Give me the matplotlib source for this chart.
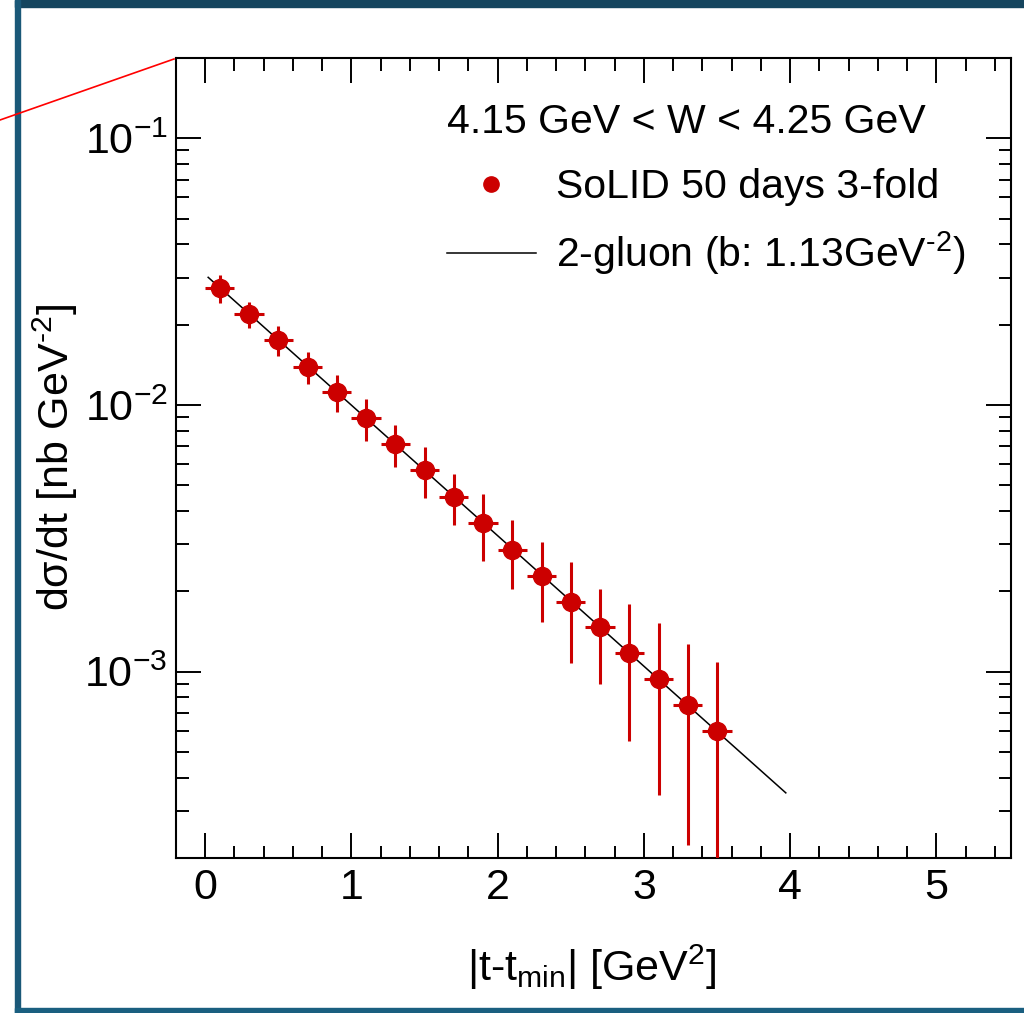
import numpy as np
import matplotlib
matplotlib.use("Agg")
import matplotlib.pyplot as plt
from matplotlib.lines import Line2D
from matplotlib.patches import Rectangle
from matplotlib.ticker import MultipleLocator, LogLocator, NullFormatter

plt.rcParams['font.family'] = ['Liberation Sans', 'DejaVu Sans']
plt.rcParams['mathtext.fontset'] = 'custom'
plt.rcParams['mathtext.rm'] = 'Liberation Sans'
plt.rcParams['mathtext.it'] = 'Liberation Sans:italic'
plt.rcParams['mathtext.bf'] = 'Liberation Sans:bold'

# data
t_vals = [0.1, 0.3, 0.5, 0.7, 0.9, 1.1, 1.3, 1.5, 1.7, 1.9,
          2.1, 2.3, 2.5, 2.7, 2.9, 3.1, 3.3, 3.5]
t_err = [0.1] * 18
xsec = [0.0274, 0.0219, 0.0175, 0.01387, 0.01116, 0.00893, 0.00715, 0.00571, 0.00453,
        0.00362, 0.00287, 0.00229, 0.00183, 0.00147, 0.00117, 0.000935, 0.000748, 0.000597]
xsec_err = [0.0033, 0.0025, 0.0022, 0.0019, 0.00175, 0.0016, 0.00128, 0.00123, 0.00098,
            0.00103, 0.00083, 0.00076, 0.00075, 0.000575, 0.00062, 0.00059, 0.000525, 0.000485]

# 2-gluon curve end points (straight on log scale)
fit_t = [0.02, 3.97]
fit_y = [0.0301, 0.000351]

W, H = 1024, 1013
fig = plt.figure(figsize=(W / 100, H / 100), dpi=100)

def fx(px):
    return px / W

def fy(py):
    return 1 - py / H

# frame of the canvas
fig.patches.append(Rectangle((fx(15), fy(7)), 1, 7 / H, transform=fig.transFigure,
                             color='#15455e', zorder=0))
fig.patches.append(Rectangle((fx(15), 0), 5 / W, 1, transform=fig.transFigure,
                             color='#1a5878', zorder=0))
fig.patches.append(Rectangle((fx(15), 0), 1, 5 / H, transform=fig.transFigure,
                             color='#1a5f80', zorder=0))

ax = fig.add_axes([fx(176), fy(858), (1011 - 176) / W, (858 - 58) / H])

red = '#cc0000'
ax.errorbar(t_vals, xsec, xerr=t_err, yerr=xsec_err, fmt='o', color=red,
            ms=13, elinewidth=2.2, capsize=0, zorder=3)
ax.plot(fit_t, fit_y, color='black', lw=1.1, zorder=2)

ax.set_yscale('log')
ax.set_xlim(-0.2, 5.51)
ax.set_ylim(2e-4, 0.2)

ax.xaxis.set_major_locator(MultipleLocator(1))
ax.xaxis.set_minor_locator(MultipleLocator(0.2))
ax.yaxis.set_major_locator(LogLocator(base=10))
ax.yaxis.set_minor_locator(LogLocator(base=10, subs=np.arange(2, 10)))
ax.yaxis.set_minor_formatter(NullFormatter())

ax.tick_params(which='both', direction='in', top=True, right=True, width=1.4,
               labelsize=31)
ax.tick_params(which='major', length=18)
ax.tick_params(which='minor', length=9)
ax.tick_params(axis='x', which='major', pad=7)
ax.tick_params(axis='y', which='major', pad=6)
for s in ax.spines.values():
    s.set_linewidth(1.5)

ax.set_xlabel(r'|t-t$_{\mathrm{min}}$| [GeV$^{2}$]', fontsize=31, va='baseline')
ax.xaxis.set_label_coords((592 - 176) / 835, (858 - 981) / 800)
ax.set_ylabel(r'dσ/dt [nb GeV$^{\text{-}2}$]', fontsize=31, va='center')
ax.yaxis.set_label_coords((55 - 176) / 835, (858 - 457) / 800)

# legend drawn in the ROOT layout
fig.text(fx(686), fy(133), '4.15 GeV < W < 4.25 GeV', fontsize=29.5,
         ha='center', va='baseline')
fig.add_artist(Line2D([fx(491)], [fy(184)], marker='o', ms=11, color=red,
                      transform=fig.transFigure))
fig.text(fx(556), fy(198), 'SoLID 50 days 3-fold', fontsize=29.5, va='baseline')
fig.add_artist(Line2D([fx(447), fx(536)], [fy(253), fy(253)], color='black', lw=1.1,
                      transform=fig.transFigure))
fig.text(fx(556), fy(267), r'2-gluon (b: 1.13GeV$^{\text{-}2}$)', fontsize=29.5,
         va='baseline')

# red pointer line at the top left
fig.add_artist(Line2D([0, fx(174)], [fy(120), fy(59)], color='red', lw=1.2,
                      transform=fig.transFigure))

fig.savefig('out.png', dpi=100)
